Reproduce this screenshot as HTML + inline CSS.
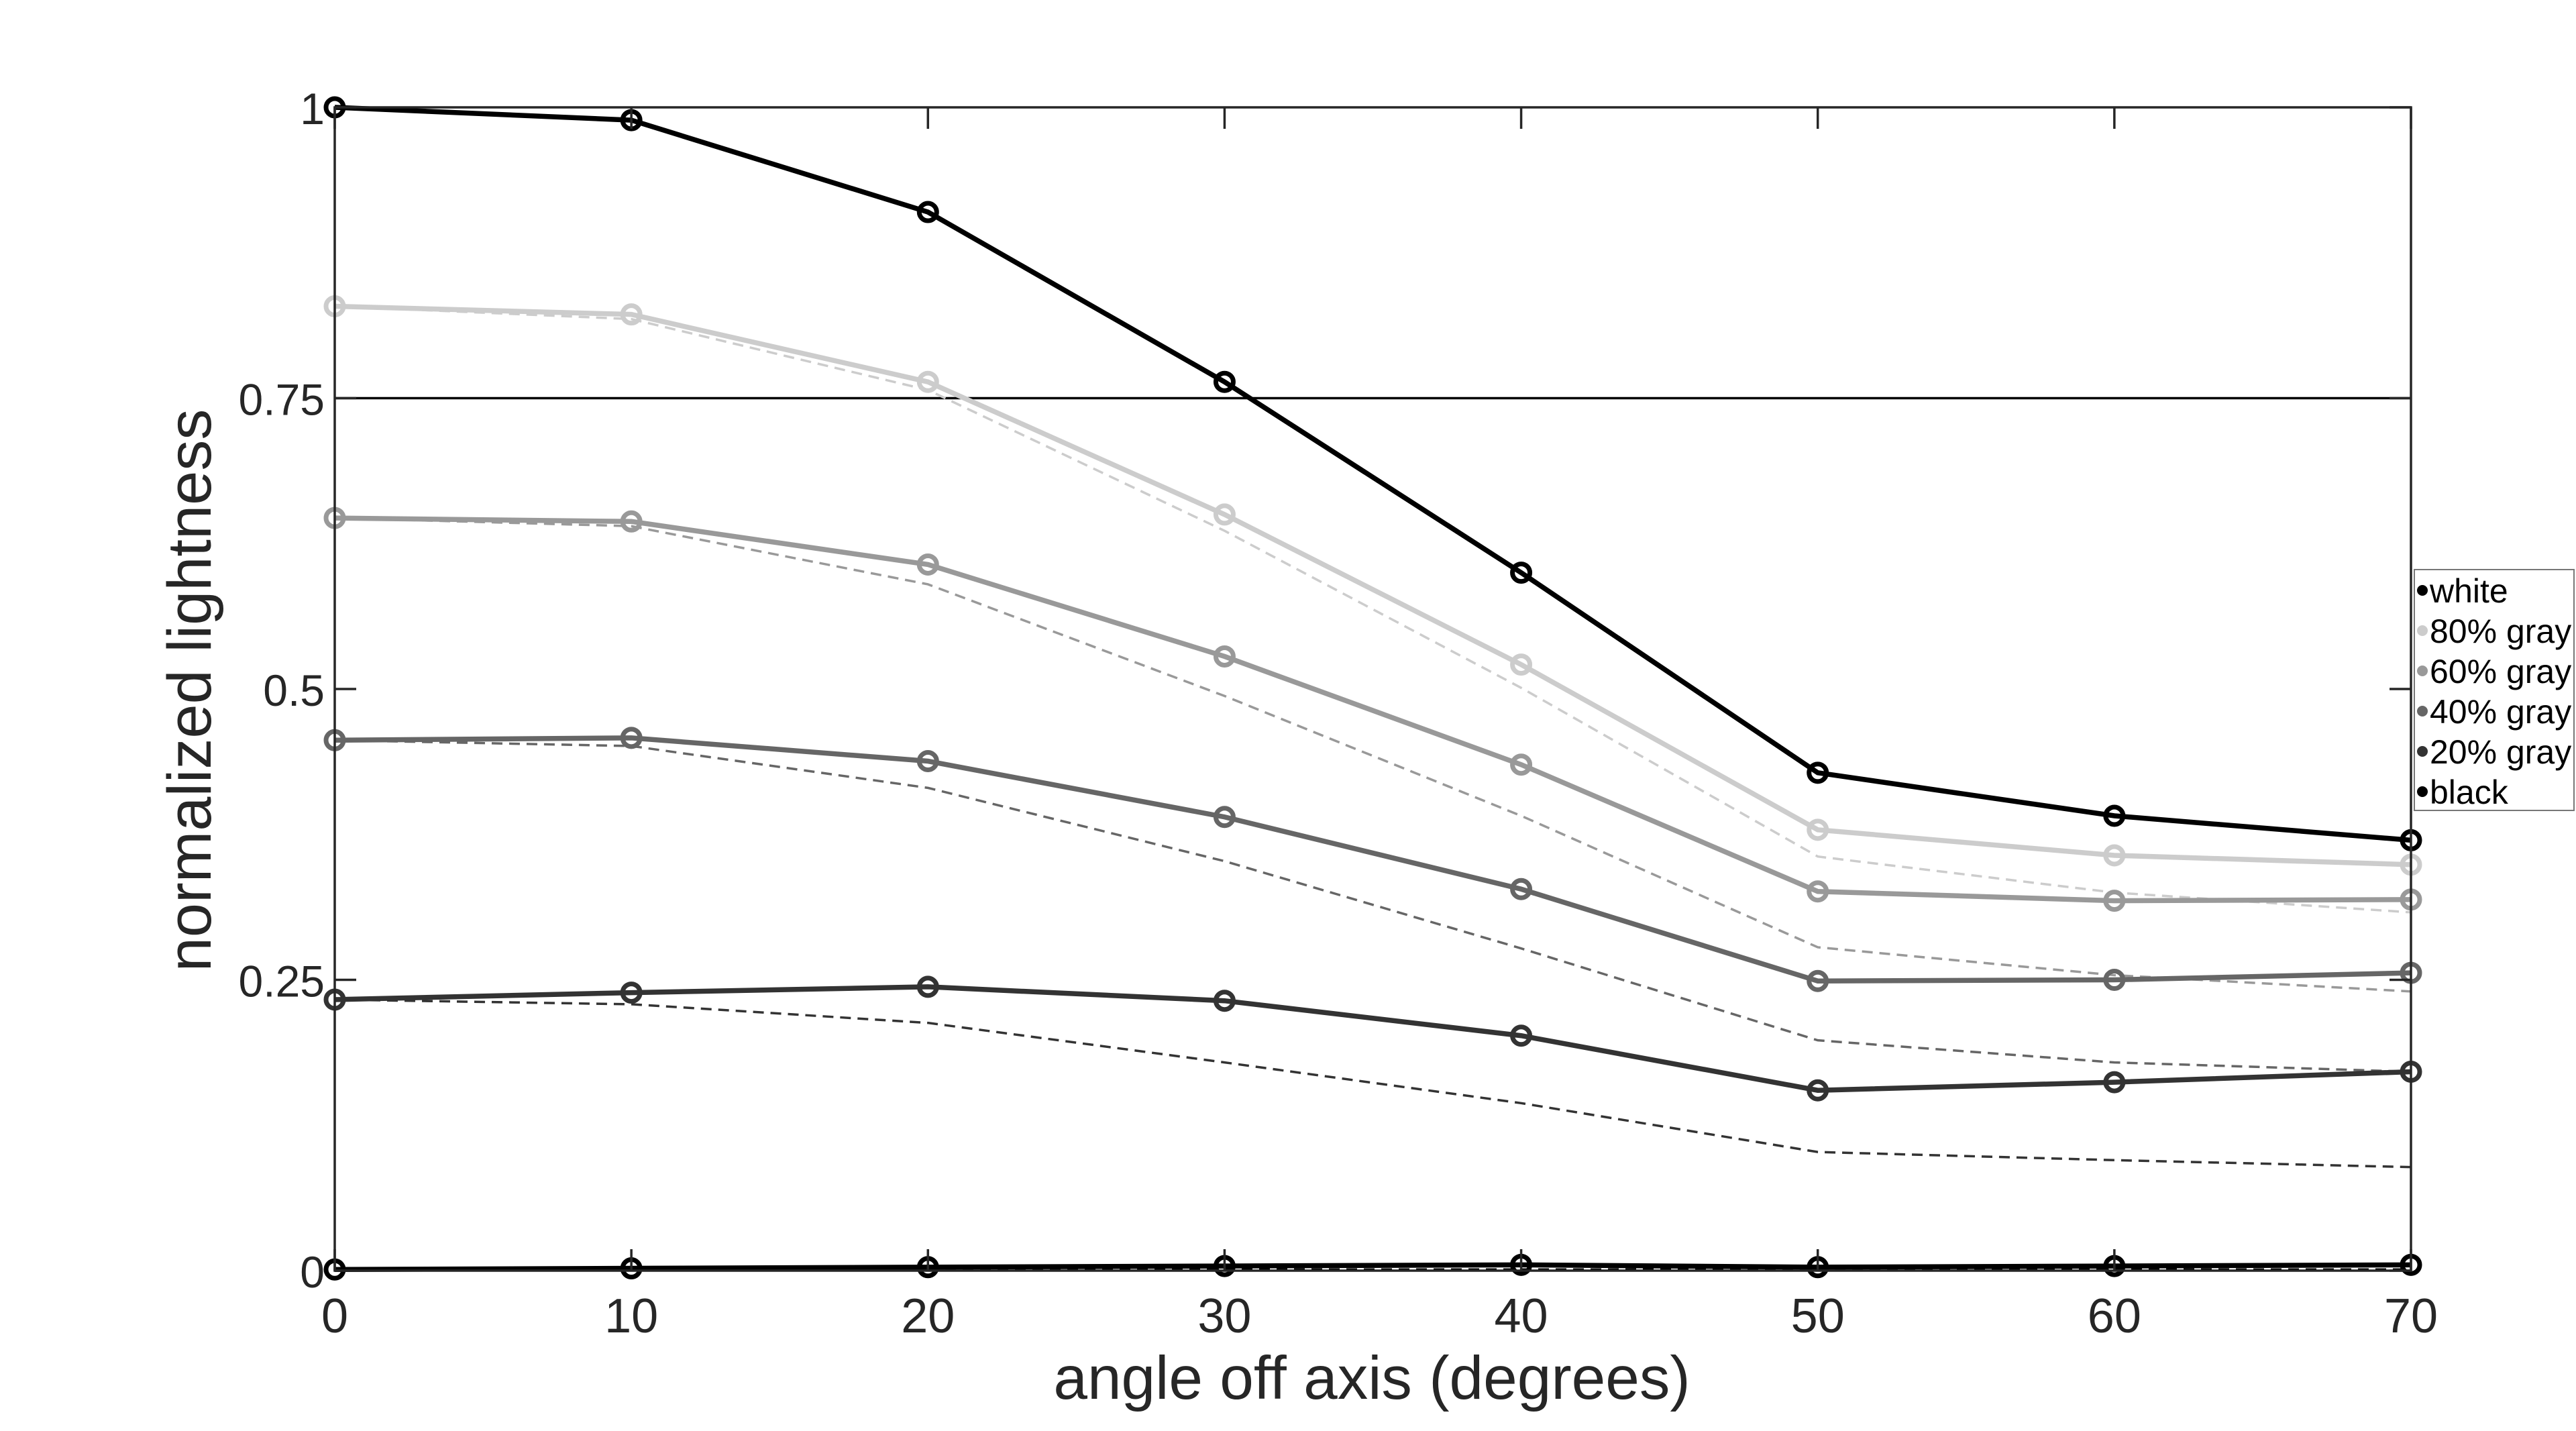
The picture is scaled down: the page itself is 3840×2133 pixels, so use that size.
<!DOCTYPE html>
<html><head><meta charset="utf-8"><style>
html,body{margin:0;padding:0;background:#fff;}
svg{display:block;font-family:"Liberation Sans",sans-serif;}
</style></head><body>
<svg id="chart" width="3840" height="2133" viewBox="0 0 3840 2133" xmlns="http://www.w3.org/2000/svg">
<rect x="0" y="0" width="3840" height="2133" fill="#fff"/>
<g id="grid"></g>
<g id="series"></g>
<g id="axes"></g>
<g id="legend"></g>
</svg>
<script>
const angles = [0,10,20,30,40,50,60,70];
const xTicks = [0,10,20,30,40,50,60,70];
const yTicks = [0,0.25,0.5,0.75,1];
const yTickLabels = ["0","0.25","0.5","0.75","1"];
const seriesNames = ["white","80% gray","60% gray","40% gray","20% gray","black"];
const seriesColors = ["#000000","#cccccc","#999999","#666666","#333333","#000000"];
const whiteVals = [1,0.989,0.91,0.764,0.600,0.428,0.391,0.370];
const gray80Vals = [0.829,0.822,0.764,0.650,0.521,0.379,0.357,0.349];
const gray60Vals = [0.647,0.644,0.607,0.528,0.435,0.326,0.318,0.319];
const gray40Vals = [0.456,0.458,0.438,0.390,0.328,0.249,0.250,0.256];
const gray20Vals = [0.233,0.239,0.244,0.232,0.202,0.155,0.162,0.171];
const blackVals = [0.001,0.002,0.003,0.004,0.005,0.003,0.004,0.005];
const gray80Ref = [0.829,0.818,0.757,0.636,0.501,0.356,0.325,0.308];
const gray60Ref = [0.647,0.640,0.590,0.494,0.391,0.278,0.254,0.240];
const gray40Ref = [0.456,0.451,0.415,0.352,0.277,0.198,0.179,0.171];
const gray20Ref = [0.233,0.229,0.213,0.179,0.144,0.102,0.095,0.089];
const blackRef = [0.001,0.001,0.001,0.001,0.001,0.001,0.001,0.001];
const refLine = 0.75;

const NS="http://www.w3.org/2000/svg";
const L=499,R=3594,T=160,B=1894;
const xs=v=>L+(v-0)/(70-0)*(R-L);
const ys=v=>B-(v-0)/(1-0)*(B-T);
function mk(tag,parent){const e=document.createElementNS(NS,tag);document.getElementById(parent).appendChild(e);return e;}

let rl=mk('line','grid');


rl.setAttribute('x1',L);rl.setAttribute('x2',R);rl.setAttribute('y1',ys(refLine));rl.setAttribute('y2',ys(refLine));
rl.setAttribute('stroke','#000');rl.setAttribute('stroke-width','3.5');

const refs=[null,gray80Ref,gray60Ref,gray40Ref,gray20Ref,blackRef];
refs.forEach((arr,i)=>{
  if(!arr)return;
  const p=mk('polyline','series');
  
  
  p.setAttribute('points',arr.map((v,j)=>xs(angles[j])+','+ys(v)).join(' '));
  p.setAttribute('fill','none');p.setAttribute('stroke',seriesColors[i]);
  p.setAttribute('stroke-width','3.5');p.setAttribute('stroke-dasharray','16,10');
});
const vals=[whiteVals,gray80Vals,gray60Vals,gray40Vals,gray20Vals,blackVals];
vals.forEach((arr,i)=>{
  const p=mk('polyline','series');
  
  
  p.setAttribute('points',arr.map((v,j)=>xs(angles[j])+','+ys(v)).join(' '));
  p.setAttribute('fill','none');p.setAttribute('stroke',seriesColors[i]);p.setAttribute('stroke-width','7.5');
  arr.forEach((v,j)=>{
    const c=mk('circle','series');
    
    
    c.setAttribute('cx',xs(angles[j]));c.setAttribute('cy',ys(v));c.setAttribute('r','13');
    c.setAttribute('fill','none');c.setAttribute('stroke',seriesColors[i]);c.setAttribute('stroke-width','7');
  });
});

const box=mk('rect','axes');


box.setAttribute('x',L);box.setAttribute('y',T);box.setAttribute('width',R-L);box.setAttribute('height',B-T);
box.setAttribute('fill','none');box.setAttribute('stroke','#262626');box.setAttribute('stroke-width','3.5');

xTicks.forEach(v=>{
  [[B,B-32],[T,T+32]].forEach(([a,b])=>{
    const t=mk('line','axes');
    
    
    t.setAttribute('x1',xs(v));t.setAttribute('x2',xs(v));t.setAttribute('y1',a);t.setAttribute('y2',b);
    t.setAttribute('stroke','#262626');t.setAttribute('stroke-width','3.5');
  });
  const tx=mk('text','axes');
  
  
  tx.setAttribute('x',xs(v));tx.setAttribute('y',1986);tx.setAttribute('text-anchor','middle');
  tx.setAttribute('font-size','72');tx.setAttribute('fill','#262626');tx.textContent=v;
});
yTicks.forEach((v,i)=>{
  [[L,L+32],[R,R-32]].forEach(([a,b])=>{
    const t=mk('line','axes');
    
    
    t.setAttribute('x1',a);t.setAttribute('x2',b);t.setAttribute('y1',ys(v));t.setAttribute('y2',ys(v));
    t.setAttribute('stroke','#262626');t.setAttribute('stroke-width','3.5');
  });
  const tx=mk('text','axes');
  
  
  tx.setAttribute('x',L-15);tx.setAttribute('y',ys(v)+25);tx.setAttribute('text-anchor','end');
  tx.setAttribute('font-size','66');tx.setAttribute('fill','#262626');tx.textContent=yTickLabels[i];
});
const xl=mk('text','axes');


xl.setAttribute('x',2045);xl.setAttribute('y',2085);xl.setAttribute('text-anchor','middle');
xl.setAttribute('font-size','91');xl.setAttribute('fill','#262626');xl.textContent='angle off axis (degrees)';
const yl=mk('text','axes');


yl.setAttribute('transform','translate(314,1029) rotate(-90)');yl.setAttribute('text-anchor','middle');
yl.setAttribute('font-size','92');yl.setAttribute('fill','#262626');yl.textContent='normalized lightness';

const lb=mk('rect','legend');


lb.setAttribute('x',3599);lb.setAttribute('y',849);lb.setAttribute('width',238);lb.setAttribute('height',359);
lb.setAttribute('fill','#fff');lb.setAttribute('stroke','#777');lb.setAttribute('stroke-width','2');
seriesNames.forEach((n,i)=>{
  const y=880+i*60;
  const d=mk('circle','legend');
  
  
  d.setAttribute('cx',3611);d.setAttribute('cy',y);d.setAttribute('r','8');d.setAttribute('fill',seriesColors[i]);
  const t=mk('text','legend');
  
  
  t.setAttribute('x',3622);t.setAttribute('y',y+18);t.setAttribute('font-size','50');t.setAttribute('fill','#000');
  t.textContent=n;
});
</script>
</body></html>
